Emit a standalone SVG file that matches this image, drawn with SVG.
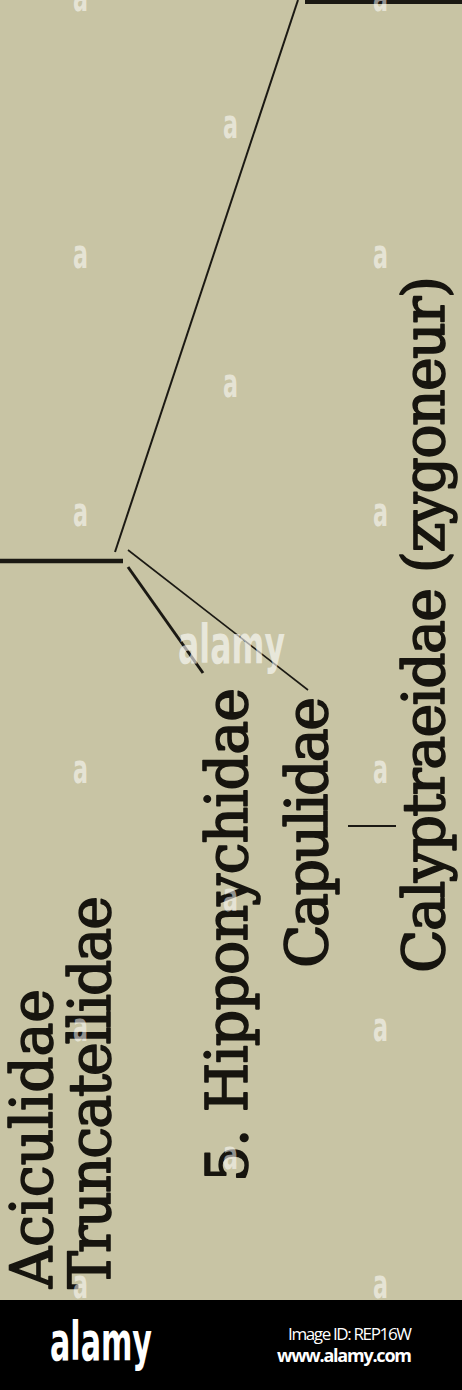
<svg xmlns="http://www.w3.org/2000/svg" width="462" height="1390" viewBox="0 0 462 1390">
  <defs>
    <style>
      .lbl { font-family: "DejaVu Serif", "Liberation Serif", serif; font-size: 57px; fill: #17150f; stroke: #17150f; stroke-width: 1.6px; stroke-linejoin: round; }
      .ln { stroke: #1b1913; fill: none; stroke-linecap: butt; }
      .wm { font-family: "DejaVu Sans Condensed", "DejaVu Sans", sans-serif; font-weight: bold; font-size: 40px; fill: #ffffff; fill-opacity: 0.55; }
      .band { font-family: "Open Sans", "DejaVu Sans", sans-serif; fill: #ffffff; text-anchor: end; }
    </style>
  </defs>
  <rect x="0" y="0" width="462" height="1300" fill="#c8c4a4"/>

  <g id="connectors">
    <line class="ln" x1="305" y1="2" x2="462" y2="2" stroke-width="4"/>
    <line class="ln" x1="298" y1="0" x2="115" y2="552" stroke-width="2"/>
    <line class="ln" x1="0" y1="561" x2="123" y2="561" stroke-width="4.5"/>
    <line class="ln" x1="128" y1="550" x2="308" y2="690" stroke-width="1.6"/>
    <line class="ln" x1="128" y1="567" x2="203" y2="673" stroke-width="3"/>
    <line class="ln" x1="348" y1="826" x2="396" y2="826" stroke-width="2"/>
  </g>

  <g id="node-aciculidae">
    <text class="lbl" transform="translate(52,1288) rotate(-90)" textLength="299">Aciculidae</text>
  </g>
  <g id="node-truncatellidae">
    <text class="lbl" transform="translate(110,1289) rotate(-90)" textLength="393">Truncatellidae</text>
  </g>
  <g id="node-hipponychidae">
    <text class="lbl" transform="translate(247,1182) rotate(-90)" textLength="494">5. Hipponychidae</text>
  </g>
  <g id="node-capulidae">
    <text class="lbl" transform="translate(327,968) rotate(-90)" textLength="271">Capulidae</text>
  </g>
  <g id="node-calyptraeidae">
    <text class="lbl" transform="translate(444,973) rotate(-90)" textLength="697">Calyptraeidae (zygoneur)</text>
  </g>

  <g id="watermark">
    <text class="wm" x="73" y="11" textLength="15" lengthAdjust="spacingAndGlyphs">a</text>
    <text class="wm" x="373" y="11" textLength="15" lengthAdjust="spacingAndGlyphs">a</text>
    <text class="wm" x="223" y="138" textLength="15" lengthAdjust="spacingAndGlyphs">a</text>
    <text class="wm" x="73" y="268" textLength="15" lengthAdjust="spacingAndGlyphs">a</text>
    <text class="wm" x="373" y="268" textLength="15" lengthAdjust="spacingAndGlyphs">a</text>
    <text class="wm" x="223" y="397" textLength="15" lengthAdjust="spacingAndGlyphs">a</text>
    <text class="wm" x="73" y="526" textLength="15" lengthAdjust="spacingAndGlyphs">a</text>
    <text class="wm" x="373" y="526" textLength="15" lengthAdjust="spacingAndGlyphs">a</text>
    <text class="wm" x="73" y="783" textLength="15" lengthAdjust="spacingAndGlyphs">a</text>
    <text class="wm" x="373" y="783" textLength="15" lengthAdjust="spacingAndGlyphs">a</text>
    <text class="wm" x="223" y="911" textLength="15" lengthAdjust="spacingAndGlyphs">a</text>
    <text class="wm" x="73" y="1041" textLength="15" lengthAdjust="spacingAndGlyphs">a</text>
    <text class="wm" x="373" y="1041" textLength="15" lengthAdjust="spacingAndGlyphs">a</text>
    <text class="wm" x="223" y="1169" textLength="15" lengthAdjust="spacingAndGlyphs">a</text>
    <text class="wm" x="73" y="1298" textLength="15" lengthAdjust="spacingAndGlyphs">a</text>
    <text class="wm" x="373" y="1298" textLength="15" lengthAdjust="spacingAndGlyphs">a</text>
    <text x="178" y="663" font-family="DejaVu Sans Condensed, DejaVu Sans, sans-serif" font-weight="bold" font-size="54" fill="#ffffff" fill-opacity="0.6" textLength="107" lengthAdjust="spacingAndGlyphs">alamy</text>
  </g>

  <g id="band">
    <rect x="0" y="1300" width="462" height="90" fill="#000000"/>
    <text x="50" y="1360" font-family="DejaVu Sans Condensed, DejaVu Sans, sans-serif" font-weight="bold" font-size="54" fill="#ffffff" textLength="102" lengthAdjust="spacingAndGlyphs">alamy</text>
    <text class="band" x="412" y="1340" font-size="17" textLength="124">Image ID: REP16W</text>
    <text class="band" x="412" y="1362" font-size="18" font-weight="bold" textLength="135">www.alamy.com</text>
  </g>
</svg>
